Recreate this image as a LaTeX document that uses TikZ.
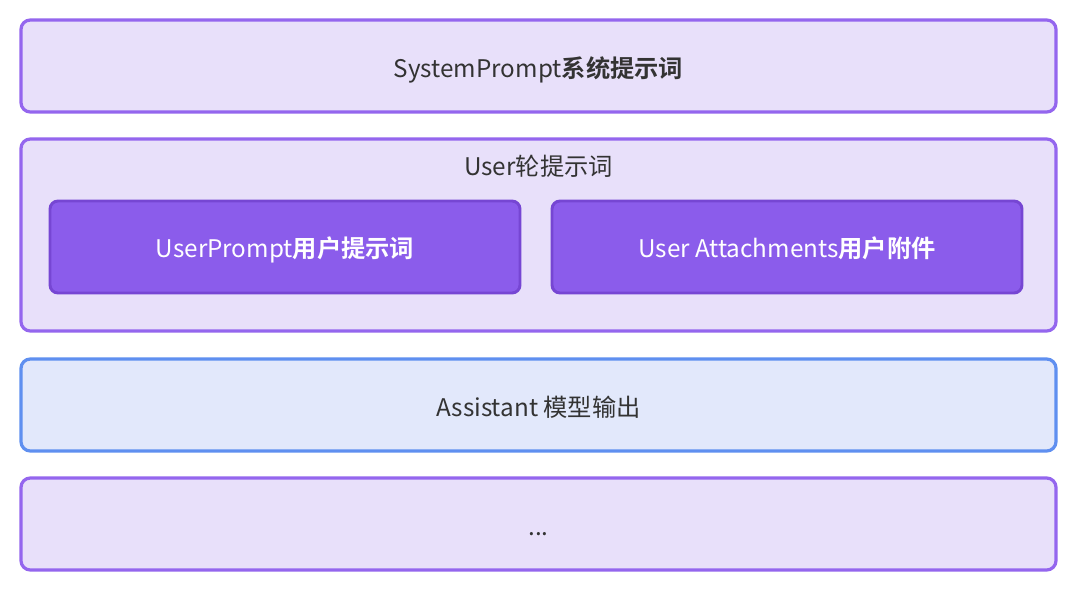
\documentclass[tikz,border=0pt]{standalone}
\usepackage{fontspec}
\setmainfont{Noto Sans CJK SC}
\newfontfamily\cjkb{Noto Sans CJK SC Bold}
\definecolor{lavfill}{HTML}{E8E0FA}
\definecolor{lavline}{HTML}{9466EE}
\definecolor{innfill}{HTML}{8B5CEB}
\definecolor{innline}{HTML}{7646D3}
\definecolor{blufill}{HTML}{E2E8FB}
\definecolor{bluline}{HTML}{5F8FF0}
\definecolor{txt}{HTML}{333333}
\tikzset{
  outerbox/.style={draw=lavline, fill=lavfill, line width=2.4pt, rounded corners=7pt},
  innerbox/.style={draw=innline, fill=innfill, line width=2.2pt, rounded corners=6pt},
  bluebox/.style={draw=bluline, fill=blufill, line width=2.4pt, rounded corners=7pt},
  lbl/.style={font=\fontsize{18.2pt}{21pt}\selectfont, text=txt, inner sep=0pt, anchor=base},
  wlbl/.style={font=\fontsize{18.2pt}{21pt}\selectfont, text=white, inner sep=0pt, anchor=base}
}
\begin{document}
\begin{tikzpicture}[x=0.75pt,y=-0.75pt]
\useasboundingbox (0,0) rectangle (1080,589);
\fill[white] (0,0) rectangle (1080,589);
\draw[outerbox] (21,20) rectangle (1056,112);
\node[lbl] (sys) at (538.5,77.5) {SystemPrompt{\cjkb 系统提示词}};
\draw[outerbox] (21,139) rectangle (1056,331);
\node[lbl] (usr) at (538.5,175.5) {User轮提示词};
\draw[innerbox] (50,201) rectangle (520,293);
\node[wlbl] (up) at (285,257.5) {UserPrompt{\cjkb 用户提示词}};
\draw[innerbox] (552,201) rectangle (1022,293);
\node[wlbl] (ua) at (787,257.5) {User Attachments{\cjkb 用户附件}};
\draw[bluebox] (21,359) rectangle (1056,451);
\node[lbl] (asst) at (538.5,416.5) {Assistant 模型输出};
\draw[outerbox] (21,478) rectangle (1056,570);
\node[lbl] (more) at (538.5,535.5) {...};
\end{tikzpicture}
\end{document}
